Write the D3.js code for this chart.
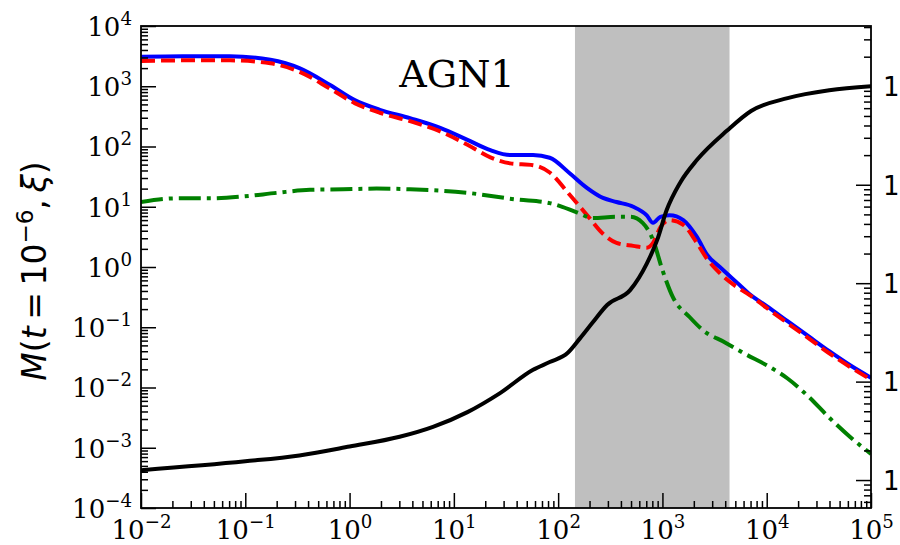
<!DOCTYPE html>
<html>
<head>
<meta charset="utf-8">
<script src="https://cdn.jsdelivr.net/npm/d3@7"></script>
<style>
  body { margin: 0; background: #fff; }
  svg { display: block; }
</style>
</head>
<body>
<svg id="chart" width="900" height="545"></svg>
<script>
// Total mass profile (blue, solid)
const xTotal = [0.01, 0.025, 0.071, 0.174, 0.33, 0.65, 1.12, 1.95, 3.8, 7.4, 13.5, 22.4, 34.7, 57.5, 83,
  129, 190, 269, 363, 525, 708, 813, 955, 1175, 1585, 2140, 2690, 3550, 5250, 6920,
  1e4, 1.585e4, 2.51e4, 3.98e4, 6.31e4, 1e5];
const mTotal = [3090, 3160, 3160, 2750, 2000, 1050, 589, 407, 295, 204, 129, 87, 72, 72, 65,
  36, 20.4, 14, 12, 10, 7.2, 5.4, 6.8, 7.2, 6.0, 3.16, 1.58, 1.0, 0.54, 0.35,
  0.224, 0.126, 0.071, 0.040, 0.0234, 0.0145];

// First component (red, dashed)
const xCompA = xTotal;
const mCompA = [2630, 2690, 2690, 2400, 1740, 912, 525, 363, 263, 178, 107, 66, 52.5, 49, 37,
  15.8, 7.2, 3.55, 2.51, 2.24, 2.09, 2.51, 4.57, 6.0, 5.0, 2.51, 1.35, 0.79, 0.457, 0.339,
  0.209, 0.117, 0.066, 0.037, 0.0219, 0.0135];

// Second component (green, dash-dot)
const xCompB = [0.01, 0.0219, 0.0457, 0.0955, 0.2, 0.417, 0.871, 1.82, 3.8, 13.5, 39.8, 83, 151, 214,
  363, 490, 646, 813, 1000, 1259, 1820, 2455, 3981, 6310, 1e4, 1.585e4, 2.51e4, 3.98e4, 6.31e4, 1e5];
const mCompB = [12.0, 13.8, 13.8, 14.8, 17.0, 19.1, 19.5, 20.0, 19.5, 17.0, 13.2, 11.5, 8.1, 6.5,
  6.8, 6.8, 5.4, 2.8, 0.89, 0.316, 0.148, 0.089, 0.056, 0.0355, 0.0234, 0.0141, 0.0071, 0.00316, 0.00151, 0.00079];

// Cumulative fraction (black, right axis)
const xCum = [0.01, 0.1, 0.33, 1, 3.02, 6.31, 13.5, 27.5, 57.5, 83, 123, 162, 214, 295, 490, 708, 891,
  1096, 1479, 2138, 4169, 7079, 1.585e4, 3.98e4, 1e5];
const fCum = [1.26e-4, 1.55e-4, 1.78e-4, 2.19e-4, 2.75e-4, 3.47e-4, 4.9e-4, 7.6e-4, 1.32e-3, 1.58e-3,
  1.95e-3, 2.75e-3, 3.98e-3, 6.0e-3, 8.5e-3, 1.58e-2, 2.75e-2, 5.5e-2, 0.105, 0.178, 0.355, 0.562,
  0.759, 0.912, 1.0];

// Shaded interval and axis ticks
const bandRange = [145, 4400];
const xTickValues = [1e-2, 1e-1, 1e0, 1e1, 1e2, 1e3, 1e4, 1e5];
const yTickValues = [1e-4, 1e-3, 1e-2, 1e-1, 1e0, 1e1, 1e2, 1e3, 1e4];
const yRightTickValues = [1e-4, 1e-3, 1e-2, 1e-1, 1e0];
const yRightTickLabels = ["1", "1", "1", "1", "1"];
const panelLabel = "AGN1";

const svg = d3.select("#chart");
const W = 900, H = 545;
const margin = { top: 26, right: 29, bottom: 37, left: 141 };
const width = W - margin.left - margin.right;
const height = H - margin.top - margin.bottom;

const g = svg.append("g").attr("transform", `translate(${margin.left},${margin.top})`);

const x = d3.scaleLog().domain([1e-2, 1e5]).range([0, width]);
const y = d3.scaleLog().domain([1e-4, 1e4]).range([height, 0]);
const yR = d3.scaleLog().domain([5.2e-5, 4.1]).range([height, 0]);

g.append("clipPath").attr("id", "plotClip")
  .append("rect").attr("width", width).attr("height", height);

// shaded band
g.append("rect")
  .attr("x", x(bandRange[0]))
  .attr("y", 0)
  .attr("width", x(bandRange[1]) - x(bandRange[0]))
  .attr("height", height)
  .attr("fill", "#bfbfbf");

const lineL = d3.line().x(d => x(d[0])).y(d => y(d[1])).curve(d3.curveMonotoneX);
const lineR = d3.line().x(d => x(d[0])).y(d => yR(d[1])).curve(d3.curveMonotoneX);

const plot = g.append("g").attr("clip-path", "url(#plotClip)");

const series = [
  { xs: xTotal, ys: mTotal, line: lineL, color: "#0000ff", dash: null, w: 4 },
  { xs: xCompA, ys: mCompA, line: lineL, color: "#ff0000", dash: "14,6", w: 4 },
  { xs: xCompB, ys: mCompB, line: lineL, color: "#008000", dash: "22,6,4,6", w: 4 },
  { xs: xCum, ys: fCum, line: lineR, color: "#000000", dash: null, w: 4 }
];
series.forEach(s => {
  plot.append("path")
    .datum(s.xs.map((v, i) => [v, s.ys[i]]))
    .attr("d", s.line)
    .attr("fill", "none")
    .attr("stroke", s.color)
    .attr("stroke-width", s.w)
    .attr("stroke-dasharray", s.dash)
    .attr("stroke-linejoin", "round");
});

// minor tick values
function minorTicks(lo, hi) {
  const out = [];
  for (let e = lo; e < hi; e++) for (let m = 2; m <= 9; m++) out.push(m * Math.pow(10, e));
  return out;
}

const serif = "DejaVu Serif";
const tickFont = 26;

function powerLabels(sel) {
  sel.selectAll(".tick text").each(function (d) {
    const e = Math.round(Math.log10(d));
    const t = d3.select(this);
    t.text(null);
    t.append("tspan").text("10");
    t.append("tspan").attr("dy", -11).attr("font-size", tickFont * 0.7)
      .text(e < 0 ? "\u2212" + (-e) : String(e));
  });
}

function styleAxis(sel) {
  sel.select(".domain").remove();
  sel.selectAll(".tick line").attr("stroke", "#000").attr("stroke-width", 1.5);
}

// left axis
const yAxisG = g.append("g")
  .call(d3.axisLeft(y).tickValues(yTickValues).tickSizeInner(-15).tickSizeOuter(0).tickPadding(9));
yAxisG.selectAll(".tick text").attr("font-family", serif).attr("font-size", tickFont)
  .attr("fill", "#000").attr("dy", "0.36em");
powerLabels(yAxisG);
styleAxis(yAxisG);
const yMinorG = g.append("g")
  .call(d3.axisLeft(y).tickValues(minorTicks(-4, 4)).tickSizeInner(-7).tickSizeOuter(0).tickFormat(""));
styleAxis(yMinorG);

// bottom axis
const xAxisG = g.append("g").attr("transform", `translate(0,${height})`)
  .call(d3.axisBottom(x).tickValues(xTickValues).tickSizeInner(-15).tickSizeOuter(0).tickPadding(13));
xAxisG.selectAll(".tick text").attr("font-family", serif).attr("font-size", tickFont)
  .attr("fill", "#000").attr("dy", "0.71em");
powerLabels(xAxisG);
styleAxis(xAxisG);
const xMinorG = g.append("g").attr("transform", `translate(0,${height})`)
  .call(d3.axisBottom(x).tickValues(minorTicks(-2, 5)).tickSizeInner(-7).tickSizeOuter(0).tickFormat(""));
styleAxis(xMinorG);

// right axis
const yRAxisG = g.append("g").attr("transform", `translate(${width},0)`)
  .call(d3.axisRight(yR).tickValues(yRightTickValues).tickSizeInner(-15).tickSizeOuter(0).tickPadding(12)
    .tickFormat((d, i) => yRightTickLabels[i]));
yRAxisG.selectAll(".tick text").attr("font-family", "DejaVu Sans").attr("font-size", tickFont)
  .attr("fill", "#000").attr("dy", "0.36em");
styleAxis(yRAxisG);
const yRMinorG = g.append("g").attr("transform", `translate(${width},0)`)
  .call(d3.axisRight(yR).tickValues(minorTicks(-5, 1).filter(v => v >= 5.2e-5 && v <= 4.1))
    .tickSizeInner(-7).tickSizeOuter(0).tickFormat(""));
styleAxis(yRMinorG);

// frame
g.append("rect").attr("width", width).attr("height", height)
  .attr("fill", "none").attr("stroke", "#000").attr("stroke-width", 1.8);

// panel label
g.append("text")
  .attr("x", x(3.0))
  .attr("y", y(1e3) + 1)
  .attr("font-family", serif)
  .attr("font-size", 38)
  .attr("fill", "#000")
  .text(panelLabel);

// y-axis title
const yTitle = svg.append("text")
  .attr("transform", `translate(46,${margin.top + height / 2 + 4}) rotate(-90)`)
  .attr("text-anchor", "middle")
  .attr("font-family", "DejaVu Sans")
  .attr("font-size", 33)
  .attr("fill", "#000");
yTitle.append("tspan").attr("font-style", "italic").text("M");
yTitle.append("tspan").text("(");
yTitle.append("tspan").attr("font-style", "italic").text("t");
yTitle.append("tspan").text("\u2009=\u200910");
yTitle.append("tspan").attr("dy", -13).attr("font-size", 23).text("\u22126");
yTitle.append("tspan").attr("dy", 13).text(",\u2009");
yTitle.append("tspan").attr("font-style", "italic").text("\u03be");
yTitle.append("tspan").text(")");
</script>
</body>
</html>
